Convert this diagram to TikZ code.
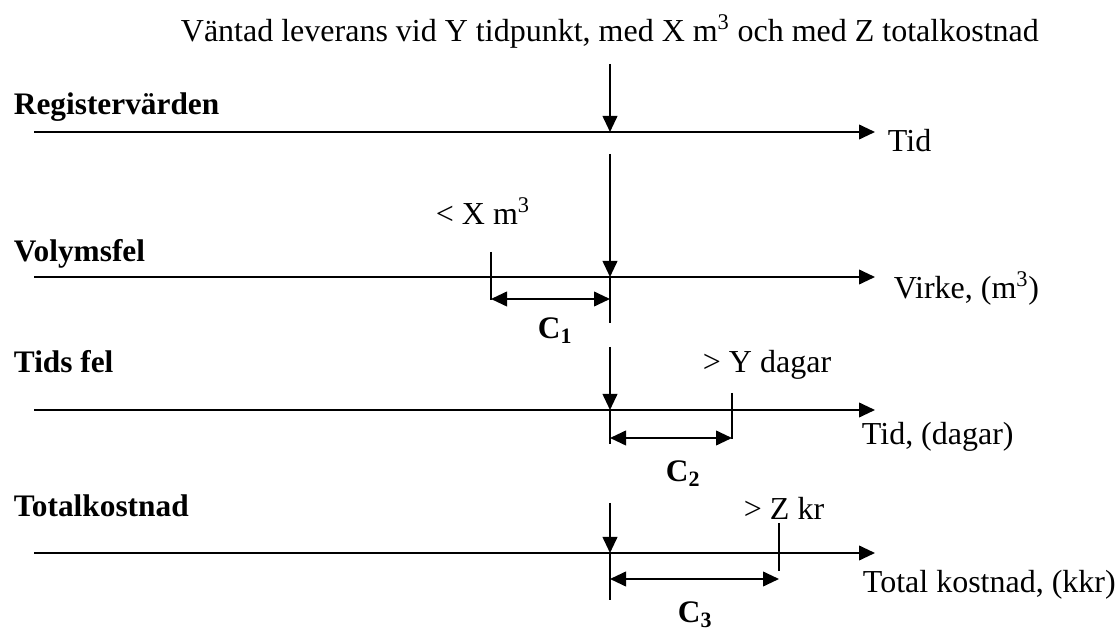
\documentclass[tikz,border=0pt]{standalone}
\usepackage{fontspec}
\setmainfont{Liberation Serif}
\usetikzlibrary{arrows.meta}
\begin{document}
\begin{tikzpicture}[x=0.75pt,y=-0.75pt,line width=1.4pt,
  tip/.tip={Triangle[length=12pt,width=11pt]},
  ax/.style={-tip},
  dim/.style={tip-tip},
  lbl/.style={anchor=base west,inner sep=0pt,font=\fontsize{24}{28}\selectfont},
  blbl/.style={anchor=base west,inner sep=0pt,font=\fontsize{23.5}{28}\selectfont\bfseries},
  clbl/.style={anchor=base,inner sep=0pt,font=\fontsize{23.5}{28}\selectfont\bfseries}]
\useasboundingbox (0,0) rectangle (1115,634);
% title
\node[lbl] (title) at (180,42) {Väntad leverans vid Y tidpunkt, med X m\textsuperscript{3} och med Z totalkostnad};
% row 1: Registervärden
\node[blbl] (reg) at (13,115) {Registervärden};
\coordinate (r0) at (34,132); \coordinate (r1) at (875,132);
\draw[ax] (r0) -- (r1);
\node[lbl] (tid) at (887,152) {Tid};
\coordinate (a0) at (610,64); \coordinate (a1) at (610,132);
\draw[ax] (a0) -- (a1);
% row 2: Volymsfel
\node[blbl] (vol) at (13,262) {Volymsfel};
\coordinate (v0) at (34,277); \coordinate (v1) at (875,277);
\draw[ax] (v0) -- (v1);
\node[lbl] (virke) at (893,299) {Virke, (m\textsuperscript{3})};
\coordinate (b0) at (610,154); \coordinate (b1) at (610,277); \coordinate (b2) at (610,323);
\draw[ax] (b0) -- (b1);
\draw (b1) -- (b2);
\coordinate (t1a) at (491,252); \coordinate (t1b) at (491,300);
\draw (t1a) -- (t1b);
\coordinate (d1a) at (491,299); \coordinate (d1b) at (610,299);
\draw[dim] (d1a) -- (d1b);
\node[lbl] (xm) at (435,225) {< X m\textsuperscript{3}};
\node[clbl] (c1) at (555,339) {C\textsubscript{1}};
% row 3: Tids fel
\node[blbl] (tf) at (13,373) {Tids fel};
\coordinate (w0) at (34,410); \coordinate (w1) at (875,410);
\draw[ax] (w0) -- (w1);
\node[lbl] (tidd) at (861,445) {Tid, (dagar)};
\coordinate (c0) at (610,347); \coordinate (cc1) at (610,410); \coordinate (cc2) at (610,444);
\draw[ax] (c0) -- (cc1);
\draw (cc1) -- (cc2);
\coordinate (t2a) at (732,393); \coordinate (t2b) at (732,439);
\draw (t2a) -- (t2b);
\coordinate (d2a) at (610,438); \coordinate (d2b) at (732,438);
\draw[dim] (d2a) -- (d2b);
\node[lbl] (yd) at (702,373) {> Y dagar};
\node[clbl] (c2) at (683,482) {C\textsubscript{2}};
% row 4: Totalkostnad
\node[blbl] (tk) at (13,517) {Totalkostnad};
\coordinate (z0) at (34,553); \coordinate (z1) at (875,553);
\draw[ax] (z0) -- (z1);
\node[lbl] (tkk) at (862,593) {Total kostnad, (kkr)};
\coordinate (e0) at (610,503); \coordinate (e1) at (610,553); \coordinate (e2) at (610,600);
\draw[ax] (e0) -- (e1);
\draw (e1) -- (e2);
\coordinate (t3a) at (779,523); \coordinate (t3b) at (779,571);
\draw (t3a) -- (t3b);
\coordinate (d3a) at (610,579); \coordinate (d3b) at (779,579);
\draw[dim] (d3a) -- (d3b);
\node[lbl] (zk) at (743,520) {> Z kr};
\node[clbl] (c3) at (695,623) {C\textsubscript{3}};
\end{tikzpicture}
\end{document}
